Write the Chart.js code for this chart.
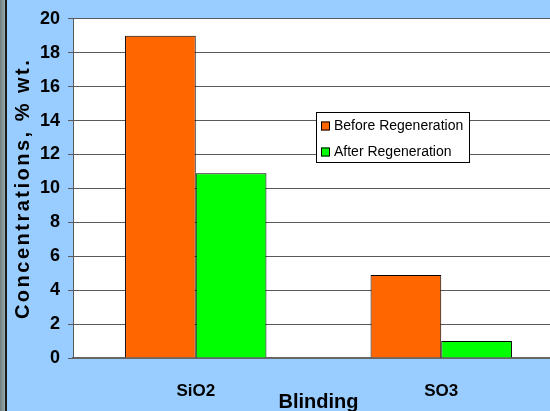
<!DOCTYPE html>
<html>
<head>
<meta charset="utf-8">
<script src="https://cdn.jsdelivr.net/npm/chart.js@4/dist/chart.umd.min.js"></script>
<style>
  html, body { margin: 0; padding: 0; width: 550px; height: 411px; overflow: hidden; background: #99CCFF; }
  #frame { position: relative; width: 550px; height: 411px; overflow: hidden; }
  #edge { position: absolute; left: 0; top: 0; width: 5px; height: 411px;
          background: linear-gradient(to right, #6f7f7f, #9aa9a9); }
  #edgeLine { position: absolute; left: 5px; top: 0; width: 2px; height: 411px; background: #1a1a1a; }
  canvas { position: absolute; left: 0; top: 0; }
</style>
</head>
<body>
<div id="frame">
  <canvas id="c" width="564" height="411" style="width:564px;height:411px"></canvas>
  <div id="edge"></div>
  <div id="edgeLine"></div>
</div>
<script>
// Oxide concentrations in the blinding layer, % wt.
const categories = ['SiO2', 'SO3'];
const seriesNames = ['Before Regeneration', 'After Regeneration'];
const beforeValues = [19, 4.9];
const afterValues = [10.9, 1.0];
const seriesColors = ['#FF6600', '#00FF00'];

const FONT = '"Liberation Sans", Arial, sans-serif';

// White plot area behind the bars
const plotBackground = {
  id: 'plotBackground',
  beforeDraw(chart) {
    const { ctx, chartArea: a } = chart;
    ctx.save();
    ctx.fillStyle = '#FFFFFF';
    ctx.fillRect(a.left, a.top, a.right - a.left, a.bottom - a.top);
    ctx.restore();
    // spaced lettering for the value axis title
    const s = chart.scales.y;
    if (s && !s._spacedTitle) {
      const orig = s.drawTitle;
      s.drawTitle = function () {
        const c = this.ctx;
        c.save();
        c.letterSpacing = '2.5px';
        orig.apply(this, arguments);
        c.restore();
      };
      s._spacedTitle = true;
    }
  }
};

// Boxed legend sitting inside the plot area
const boxLegend = {
  id: 'boxLegend',
  afterDraw(chart) {
    const { ctx } = chart;
    const x = 316, y = 112, w = 153, h = 50;
    ctx.save();
    ctx.fillStyle = '#FFFFFF';
    ctx.fillRect(x, y, w, h);
    ctx.strokeStyle = '#000000';
    ctx.lineWidth = 1;
    ctx.strokeRect(x + 0.5, y + 0.5, w, h);
    ctx.font = '14px ' + FONT;
    ctx.textBaseline = 'middle';
    chart.data.datasets.forEach((ds, i) => {
      const cy = 126 + i * 26;
      ctx.fillStyle = ds.backgroundColor;
      ctx.fillRect(321, cy - 4.5, 8, 9);
      ctx.strokeStyle = '#000000';
      ctx.strokeRect(321.5, cy - 4, 8, 8);
      ctx.fillStyle = '#000000';
      ctx.fillText(ds.label, 334, cy + 0.5);
    });
    ctx.restore();
  }
};

new Chart(document.getElementById('c'), {
  type: 'bar',
  data: {
    labels: categories,
    datasets: [
      { label: seriesNames[0], data: beforeValues, backgroundColor: seriesColors[0],
        borderColor: '#000000', borderWidth: 1 },
      { label: seriesNames[1], data: afterValues, backgroundColor: seriesColors[1],
        borderColor: '#000000', borderWidth: 1 }
    ]
  },
  options: {
    responsive: false,
    animation: false,
    layout: { padding: { top: 17, right: 0, bottom: 0, left: 0 } },
    datasets: { bar: { categoryPercentage: 0.576, barPercentage: 1.0 } },
    plugins: { legend: { display: false }, tooltip: { enabled: false } },
    scales: {
      x: {
        grid: { display: false, drawTicks: false },
        border: { display: true, color: '#666666', width: 2 },
        ticks: { color: '#000000', padding: 23, font: { family: FONT, size: 17, weight: 'bold' } },
        title: { display: true, text: 'Blinding', color: '#000000',
                 padding: { top: 0, bottom: -3 },
                 font: { family: FONT, size: 20, weight: 'bold' } },
        afterFit(scale) { scale.height = 53; }
      },
      y: {
        min: 0, max: 20,
        grid: { color: '#5a5a5a', lineWidth: 1, drawTicks: true, tickLength: 5 },
        border: { display: true, color: '#5a5a5a', width: 1 },
        ticks: { stepSize: 2, color: '#000000', padding: 8,
                 font: { family: FONT, size: 18, weight: 'bold' } },
        title: { display: true, text: 'Concentrations, % wt.', color: '#000000',
                 padding: { top: 11, bottom: 0 },
                 font: { family: FONT, size: 20, weight: 'bold' } },
        afterFit(scale) { scale.width = 73; }
      }
    }
  },
  plugins: [plotBackground, boxLegend]
});
</script>
</body>
</html>
